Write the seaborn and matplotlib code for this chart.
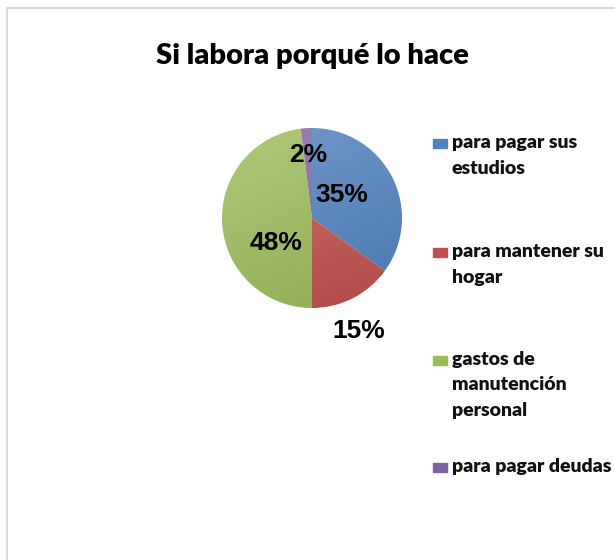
import matplotlib.pyplot as plt
import matplotlib.colors as mcolors
from matplotlib.lines import Line2D
from matplotlib.patches import Rectangle
import seaborn as sns
import numpy as np

# Datos del gráfico
categorias = ['para pagar sus\nestudios', 'para mantener su\nhogar',
              'gastos de\nmanutención\npersonal', 'para pagar deudas']
porcentajes = [35, 15, 48, 2]
etiquetas = ['35%', '15%', '48%', '2%']
colores = ['#4F81BD', '#C0504D', '#9BBB59', '#8064A2']

sns.set_theme(style="white")
plt.rcParams['font.family'] = ['Lato', 'DejaVu Sans']

W, H = 615, 560
fig = plt.figure(figsize=(W / 100, H / 100), dpi=100)

def fx(px):
    return px / W

def fy(py):
    return 1 - py / H

# Marco del gráfico
fig.add_artist(Line2D([fx(6.5), 1], [fy(7.5), fy(7.5)], color='#D9D9D9', lw=1.3))
fig.add_artist(Line2D([fx(6.5), fx(6.5)], [0, fy(7.5)], color='#D9D9D9', lw=1.3))

# Título
fig.text(fx(312), fy(56), 'Si labora porqué lo hace', ha='center', va='center',
         fontsize=21, fontweight='heavy', color='black')

# Pastel
ax = fig.add_axes([fx(222), fy(308), fx(180), 180 / H])
wedges, _ = ax.pie(porcentajes, colors=colores, startangle=90, counterclock=False,
                   radius=1)
ax.set_xlim(-1, 1)
ax.set_ylim(-1, 1)
ax.set_aspect('equal')
ax.axis('off')

# Degradado estilo Excel (claro arriba a la izquierda, oscuro abajo a la derecha)
yy, xx = np.mgrid[0:1:256j, 0:1:256j]
grad = np.clip((yy * 0.7 + xx * 0.3), 0, 1)
for w, c in zip(wedges, colores):
    base = np.array(mcolors.to_rgb(c))
    light = base + (1 - base) * 0.2
    dark = base * 0.92
    img = light[None, None, :] * (1 - grad[:, :, None]) + dark[None, None, :] * grad[:, :, None]
    im = ax.imshow(img, extent=(-1, 1, -1, 1), aspect='auto', zorder=2)
    im.set_clip_path(w)

# Etiquetas de porcentaje
pos_etiquetas = [(0.33, 0.255), (0.52, -1.26), (-0.4, -0.28), (-0.04, 0.7)]
for t, (x, y) in zip(etiquetas, pos_etiquetas):
    ax.text(x, y, t, ha='center', va='center', fontsize=19, fontweight='bold',
            family=['Liberation Sans', 'DejaVu Sans'], color='black', zorder=5)

# Leyenda
base_lineas = [148, 257, 365, 472]
for cat, c, b in zip(categorias, colores, base_lineas):
    fig.add_artist(Rectangle((fx(433), fy(b)), fx(14), 9 / H, color=c,
                             transform=fig.transFigure))
    for i, linea in enumerate(cat.split('\n')):
        fig.text(fx(452), fy(b + i * 25.5), linea, ha='left', va='baseline',
                 fontsize=14, fontweight='heavy', color='#111111')

plt.savefig('out.png', dpi=100)
